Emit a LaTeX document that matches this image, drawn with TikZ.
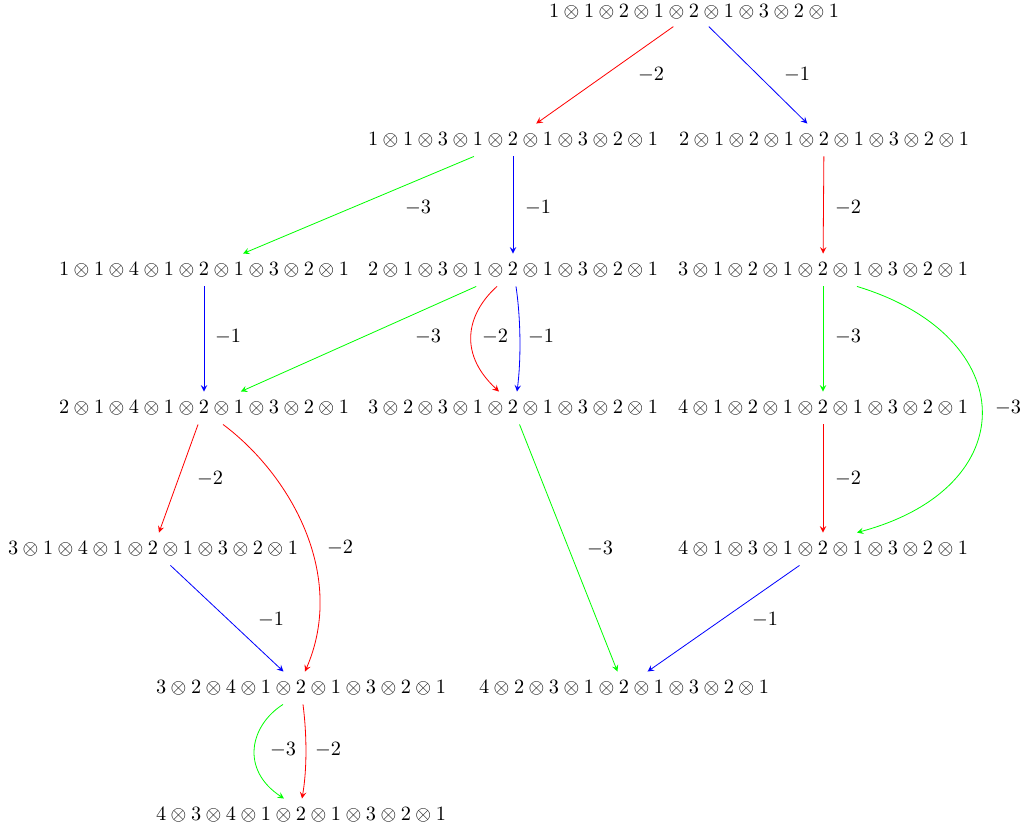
\documentclass[tikz,border=0pt]{standalone}
\usetikzlibrary{calc,arrows.meta}
\newcommand\tensq[9]{$#1\otimes#2\otimes#3\otimes#4\otimes#5\otimes#6\otimes#7\otimes#8\otimes#9$}
\begin{document}
\begin{tikzpicture}[x=0.4925pt,y=-0.4925pt,
  st/.style={inner xsep=0pt, inner ysep=0pt, minimum height=15.8pt},
  lb/.style={inner sep=0pt},
  ed/.style={-stealth, line width=0.4pt}]
\useasboundingbox (0,0) rectangle (1024,832);
% states
\node[st, minimum height=14pt] (n1)  at (694,12)  {\tensq 112121321};
\node[st] (n2a) at (513,140) {\tensq 113121321};
\node[st] (n2b) at (824,140) {\tensq 212121321};
\node[st] (n3a) at (204,270) {\tensq 114121321};
\node[st] (n3b) at (513,270) {\tensq 213121321};
\node[st] (n3c) at (823,270) {\tensq 312121321};
\node[st] (n4a) at (204,408) {\tensq 214121321};
\node[st] (n4b) at (513,408) {\tensq 323121321};
\node[st] (n4c) at (823,408) {\tensq 412121321};
\node[st] (n5a) at (153,549) {\tensq 314121321};
\node[st] (n5b) at (823,549) {\tensq 413121321};
\node[st] (n6a) at (301,688) {\tensq 324121321};
\node[st] (n6b) at (624,688) {\tensq 423121321};
\node[st] (n7)  at (301,815) {\tensq 434121321};
% edges
\draw[ed,red]   (n1) -- (n2a);
\draw[ed,blue]  (n1) -- (n2b);
\draw[ed,green] (n2a) -- (n3a);
\draw[ed,blue]  (n2a) -- (n3b);
\draw[ed,red]   (n2b) -- (n3c);
\draw[ed,blue]  (n3a) -- (n4a);
\draw[ed,green] (n3b) -- (n4a);
\draw[ed,red]   ($(n3b.south)+(-16,0)$) .. controls +(-27,24) and +(-44,-41) .. ($(n4b.north)+(-14,0)$);
\draw[ed,blue]  ($(n3b.south)+(3,0)$) .. controls +(5,34) and +(4,-31) .. ($(n4b.north)+(4,0)$);
\draw[ed,green] (n3c) -- (n4c);
\draw[ed,green] ($(n3c.south)+(34,0)$) .. controls +(165,50) and +(168,-45) .. ($(n5b.north)+(34,0)$);
\draw[ed,red]   (n4a) -- (n5a);
\draw[ed,red]   ($(n4a.south)+(19,0)$) .. controls +(67,50) and +(42,-97) .. ($(n6a.north)+(4,0)$);
\draw[ed,green] (n4b) -- (n6b);
\draw[ed,red]   (n4c) -- (n5b);
\draw[ed,blue]  (n5a) -- (n6a);
\draw[ed,blue]  (n5b) -- (n6b);
\draw[ed,green] ($(n6a.south)+(-18,0)$) .. controls +(-33,21) and +(-44,-29) .. ($(n7.north)+(-17,0)$);
\draw[ed,red]   ($(n6a.south)+(2,0)$) .. controls +(4,31) and +(5,-29) .. ($(n7.north)+(1,0)$);
% labels
\node[lb] (l1)  at (651,75)  {$-2$};
\node[lb] (l2)  at (797,75)  {$-1$};
\node[lb] (l3)  at (418,208) {$-3$};
\node[lb] (l4)  at (538,208) {$-1$};
\node[lb] (l5)  at (848,208) {$-2$};
\node[lb] (l6)  at (228,337) {$-1$};
\node[lb] (l7)  at (428,337) {$-3$};
\node[lb] (l8)  at (495,337) {$-2$};
\node[lb] (l9)  at (541,337) {$-1$};
\node[lb] (l10) at (848,337) {$-3$};
\node[lb] (l11) at (1008,408) {$-3$};
\node[lb] (l12) at (210,479) {$-2$};
\node[lb] (l13) at (340,548) {$-2$};
\node[lb] (l14) at (600,549) {$-3$};
\node[lb] (l15) at (848,479) {$-2$};
\node[lb] (l16) at (271,620) {$-1$};
\node[lb] (l17) at (765,620) {$-1$};
\node[lb] (l18) at (283,750) {$-3$};
\node[lb] (l19) at (328,750) {$-2$};
\end{tikzpicture}
\end{document}
